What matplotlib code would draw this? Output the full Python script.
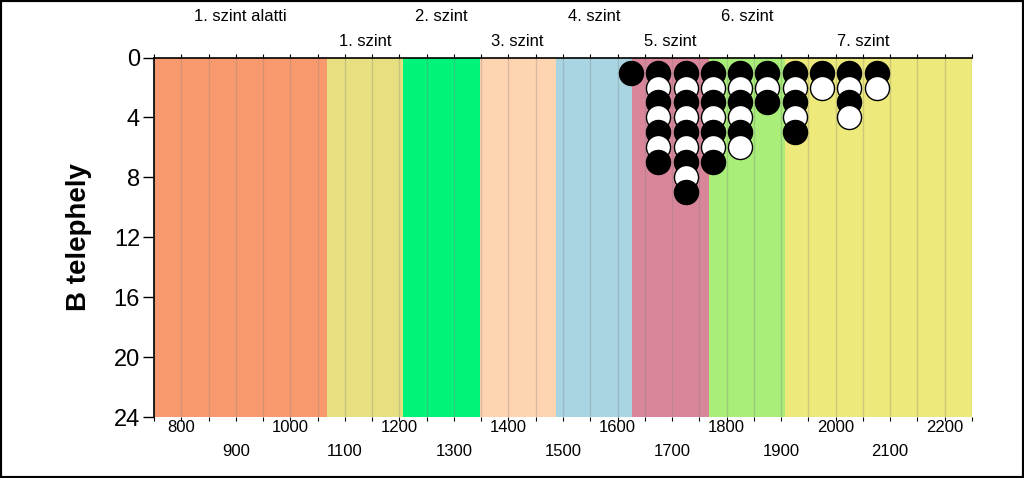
import numpy as np
import matplotlib
matplotlib.use("Agg")
import matplotlib.pyplot as plt
from matplotlib.patches import Rectangle

plt.rcParams['font.family'] = ['Liberation Sans', 'DejaVu Sans']

# szintek (levels) and their time bands
level_names = ["1. szint alatti", "1. szint", "2. szint", "3. szint",
               "4. szint", "5. szint", "6. szint", "7. szint"]
level_edges = [750, 1067, 1207, 1347, 1487, 1627, 1767, 1907, 2250]
level_label_x = [908, 1137, 1277, 1417, 1557, 1697, 1837, 2050]
level_colors = ["#F99A6E", "#E8DF80", "#00F47A", "#FFD4B0",
                "#A9D4E2", "#D9869B", "#A8EE78", "#EDE97A"]

# dots per 50-year bin
years = [1625, 1675, 1725, 1775, 1825, 1875, 1925, 1975, 2025, 2075]
counts = [1, 7, 9, 7, 6, 3, 5, 2, 4, 2]

fig = plt.figure(figsize=(10.24, 4.78), dpi=100)
ax = fig.add_axes([0.1504, 0.1276, 0.7988, 0.752])

for i in range(len(level_names)):
    ax.axvspan(level_edges[i], level_edges[i + 1], color=level_colors[i], lw=0, zorder=0)
    row_y = 1.115 if i % 2 == 0 else 1.046
    ax.text(level_label_x[i], row_y, level_names[i], transform=ax.get_xaxis_transform(),
            ha="center", va="center", fontsize=12)

xt = np.arange(750, 2251, 50)
for x in xt:
    ax.axvline(x, color="grey", alpha=0.3, lw=1, zorder=1)

for yr, n in zip(years, counts):
    for k in range(1, n + 1):
        fc = "black" if k % 2 == 1 else "white"
        ax.scatter([yr], [k], s=300, facecolor=fc, edgecolor="black", lw=1, zorder=3 + k)

ax.set_xlim(750, 2250)
ax.set_ylim(24, 0)
ax.set_yticks(range(0, 25, 4))

labels = []
for x in xt:
    if x % 200 == 0:
        labels.append(str(x))
    elif x % 100 == 0:
        labels.append("\n" + str(x))
    else:
        labels.append("")
ax.set_xticks(xt)
ax.set_xticklabels(labels, fontsize=12)
for t in ax.get_xticklabels():
    t.set_linespacing(1.75)
ax.tick_params(axis="x", bottom=True, top=True, direction="out", length=3, pad=-1, width=0.8)
ax.tick_params(axis="y", labelsize=17, length=8, width=1, pad=2)

ax.set_ylabel("B telephely", fontsize=20, fontweight="bold")
ax.yaxis.set_label_coords(-0.076, 0.5)

ax.spines["right"].set_visible(False)
ax.spines["bottom"].set_visible(False)
ax.spines["top"].set_linewidth(1.2)
ax.spines["left"].set_linewidth(1.2)

fig.patches.append(Rectangle((0, 0), 1, 1, transform=fig.transFigure,
                             fill=False, lw=3, ec="black"))

plt.savefig("out.png", dpi=100)
